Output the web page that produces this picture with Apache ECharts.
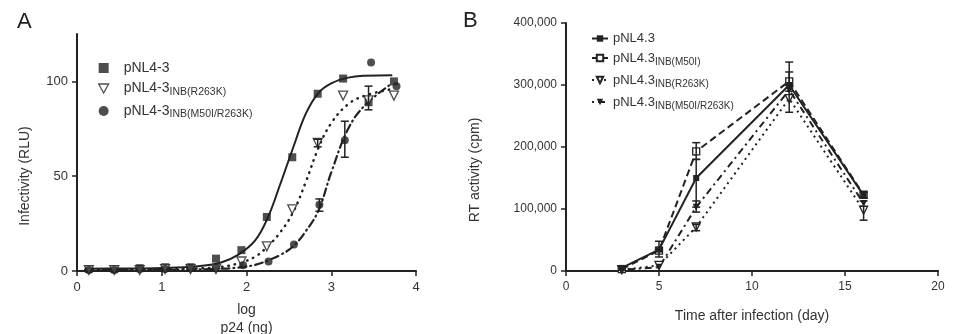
<!DOCTYPE html>
<html>
<head>
<meta charset="utf-8">
<script src="https://cdn.jsdelivr.net/npm/echarts@6/dist/echarts.min.js"></script>
<style>
  html, body { margin: 0; padding: 0; background: #fff; }
  #chart { width: 963px; height: 334px; }
</style>
</head>
<body>
<div id="chart"></div>
<script>
// panel A - infectivity vs log p24
var logP24 = [0.14, 0.44, 0.74, 1.04, 1.34, 1.64, 1.94, 2.24, 2.54, 2.84, 3.14, 3.44, 3.74];
var wtRLU = [1, 1, 1.5, 2, 2, 6.5, 11, 28.5, 60, 93.5, 101.5, 89, 100];
var r263kRLU = [0.5, 0.5, 0.5, 1, 1, 1, 5, 13, 32.5, 67.5, 92.5, 90, 92.5];
var dblX = [0.14, 0.44, 0.74, 1.04, 1.34, 1.64, 1.96, 2.26, 2.56, 2.86, 3.16, 3.47, 3.77];
var dblRLU = [0.5, 0.5, 1, 1, 1.5, 1.5, 3, 5, 14, 35, 69, 110, 97.5];

// fitted curves
var fitX = [0.1, 0.5, 1.0, 1.4, 1.7, 1.9, 2.1, 2.25, 2.4, 2.55, 2.7, 2.85, 3.0, 3.2, 3.4, 3.72];
var wtFit = [1.2, 1.3, 1.6, 2.4, 4.5, 8.5, 16, 28, 46, 65, 83, 94, 99, 102, 103, 103.3];
var r263kFit = [0.8, 0.8, 1, 1.3, 2.2, 4, 7.5, 13, 20.5, 31, 47, 65, 78, 88, 92.5, 96];
var dblFit = [0.5, 0.5, 0.6, 0.8, 1.2, 1.8, 3.2, 5.5, 8.5, 13, 21, 32, 52, 75, 87.5, 99];

// error bars [x, low, high]
var errA = [[3.44, 85, 97.5], [2.84, 65.5, 69.5], [2.86, 31.5, 38], [3.16, 60, 79]];

// panel B - RT activity over time
var days = [3, 5, 7, 12, 16];
var wtRT = [5000, 34500, 150000, 300000, 122000];
var m50iRT = [3000, 33000, 193000, 306000, 123000];
var r263kRT = [2000, 9000, 71000, 278000, 98000];
var dblRT = [2000, 6000, 103000, 292000, 109000];
var errB = [[5, 22600, 48000], [7, 103000, 180000], [7, 180000, 207000], [7, 65000, 75000],
            [7, 95000, 113000], [12, 256000, 300000], [12, 290000, 337000], [12, 295000, 321000],
            [16, 82000, 113000], [16, 118000, 127000]];

var FONT = 'Liberation Sans, Arial, sans-serif';
var INK = '#222';
var TXT = '#333';

function zip(xs, ys) {
    return xs.map(function (x, i) { return [x, ys[i]]; });
}

function errBars(params, api) {
    var x = api.value(0);
    var lo = api.coord([x, api.value(1)]);
    var hi = api.coord([x, api.value(2)]);
    var w = 4;
    var st = { stroke: INK, lineWidth: 1.5 };
    return {
        type: 'group',
        children: [
            { type: 'line', shape: { x1: lo[0], y1: lo[1], x2: hi[0], y2: hi[1] }, style: st },
            { type: 'line', shape: { x1: lo[0] - w, y1: lo[1], x2: lo[0] + w, y2: lo[1] }, style: st },
            { type: 'line', shape: { x1: hi[0] - w, y1: hi[1], x2: hi[0] + w, y2: hi[1] }, style: st }
        ]
    };
}

function commas(v) {
    return String(v).replace(/\B(?=(\d{3})+(?!\d))/g, ',');
}

var axisCommon = {
    axisLine: { lineStyle: { color: INK, width: 2 } },
    axisTick: { lineStyle: { color: INK, width: 1.5 }, length: 5 },
    splitLine: { show: false }
};

var chart = echarts.init(document.getElementById('chart'));

var option = {
    animation: false,
    textStyle: { fontFamily: FONT },
    grid: [
        { left: 77, top: 34, width: 339, height: 237, outerBoundsMode: 'none', containLabel: false },
        { left: 566, top: 23, width: 372, height: 248, outerBoundsMode: 'none', containLabel: false }
    ]
};

option.xAxis = [
    Object.assign({}, axisCommon, {
        gridIndex: 0, type: 'value', min: 0, max: 4, interval: 1,
        axisLabel: { fontSize: 13, color: TXT, margin: 10 },
        name: 'log\np24 (ng)', nameLocation: 'middle', nameGap: 30,
        nameTextStyle: { fontSize: 14, color: TXT, lineHeight: 18 }
    }),
    Object.assign({}, axisCommon, {
        gridIndex: 1, type: 'value', min: 0, max: 20, interval: 5,
        axisLabel: { fontSize: 12, color: TXT, margin: 10 },
        name: 'Time after infection (day)', nameLocation: 'middle', nameGap: 38,
        nameTextStyle: { fontSize: 14, color: TXT }
    })
];

option.yAxis = [
    Object.assign({}, axisCommon, {
        gridIndex: 0, type: 'value', min: 0, max: 125, interval: 50,
        axisLabel: { fontSize: 13, color: TXT, margin: 9, customValues: [0, 50, 100] },
        axisTick: { lineStyle: { color: INK, width: 1.5 }, length: 5, customValues: [0, 50, 100] }
    }),
    Object.assign({}, axisCommon, {
        gridIndex: 1, type: 'value', min: 0, max: 400000, interval: 100000,
        axisLabel: { fontSize: 12, color: TXT, margin: 9, formatter: commas }
    })
];

var openStyle = { color: '#fff', borderColor: INK, borderWidth: 1.3 };
var fillStyle = { color: INK };

option.series = [
    // panel A fitted curves
    { type: 'line', xAxisIndex: 0, yAxisIndex: 0, data: zip(fitX, wtFit), smooth: 0.4, showSymbol: false,
      lineStyle: { color: INK, width: 2 }, silent: true },
    { type: 'line', xAxisIndex: 0, yAxisIndex: 0, data: zip(fitX, r263kFit), smooth: 0.4, showSymbol: false,
      lineStyle: { color: INK, width: 2.5, type: [0.5, 6], cap: 'round' }, silent: true },
    { type: 'line', xAxisIndex: 0, yAxisIndex: 0, data: zip(fitX, dblFit), smooth: 0.4, showSymbol: false,
      lineStyle: { color: INK, width: 2.2, type: [8, 4, 1, 4], cap: 'round' }, silent: true },
    // panel A points
    { name: 'pNL4-3', type: 'scatter', xAxisIndex: 0, yAxisIndex: 0, data: zip(logP24, wtRLU),
      symbol: 'rect', symbolSize: 8, itemStyle: fillStyle, z: 5 },
    { name: 'pNL4-3|INB(R263K)', type: 'scatter', xAxisIndex: 0, yAxisIndex: 0, data: zip(logP24, r263kRLU),
      symbol: 'triangle', symbolRotate: 180, symbolSize: 9, itemStyle: openStyle, z: 5 },
    { name: 'pNL4-3|INB(M50I/R263K)', type: 'scatter', xAxisIndex: 0, yAxisIndex: 0, data: zip(dblX, dblRLU),
      symbol: 'circle', symbolSize: 8, itemStyle: fillStyle, z: 5 },
    { type: 'custom', xAxisIndex: 0, yAxisIndex: 0, data: errA, renderItem: errBars, encode: { x: 0, y: [1, 2] }, z: 6 },
    // panel B
    { name: 'pNL4.3', type: 'line', xAxisIndex: 1, yAxisIndex: 1, data: zip(days, wtRT),
      symbol: 'rect', symbolSize: 6, itemStyle: fillStyle, lineStyle: { color: INK, width: 2 }, z: 5 },
    { name: 'pNL4.3|INB(M50I)', type: 'line', xAxisIndex: 1, yAxisIndex: 1, data: zip(days, m50iRT),
      symbol: 'rect', symbolSize: 7, itemStyle: openStyle, lineStyle: { color: INK, width: 2, type: [7, 4] }, z: 4 },
    { name: 'pNL4.3|INB(R263K)', type: 'line', xAxisIndex: 1, yAxisIndex: 1, data: zip(days, r263kRT),
      symbol: 'triangle', symbolRotate: 180, symbolSize: 8, itemStyle: openStyle,
      lineStyle: { color: INK, width: 2, type: [2, 4] }, z: 4 },
    { name: 'pNL4.3|INB(M50I/R263K)', type: 'line', xAxisIndex: 1, yAxisIndex: 1, data: zip(days, dblRT),
      symbol: 'triangle', symbolRotate: 180, symbolSize: 7, itemStyle: fillStyle,
      lineStyle: { color: INK, width: 2, type: [2, 4, 7, 4] }, z: 4 },
    { type: 'custom', xAxisIndex: 1, yAxisIndex: 1, data: errB, renderItem: errBars, encode: { x: 0, y: [1, 2] }, z: 6 }
];

function subFmt(name) {
    var p = name.split('|');
    return p.length > 1 ? '{a|' + p[0] + '}{s|' + p[1] + '}' : '{a|' + p[0] + '}';
}

option.legend = [
    {
        orient: 'vertical', left: 93, top: 56, itemGap: 6.5, itemWidth: 10, itemHeight: 10,
        selectedMode: false,
        data: [
            'pNL4-3',
            { name: 'pNL4-3|INB(R263K)', icon: 'path://M0,0L10,0L5,9Z', itemStyle: openStyle },
            'pNL4-3|INB(M50I/R263K)'
        ],
        formatter: subFmt,
        textStyle: {
            padding: [0, 0, 0, 10],
            rich: {
                a: { fontSize: 14, color: TXT, lineHeight: 18, fontFamily: FONT },
                s: { fontSize: 10.5, color: TXT, lineHeight: 10, verticalAlign: 'bottom', fontFamily: FONT }
            }
        }
    },
    {
        orient: 'vertical', left: 586, top: 27, itemGap: 6.5, itemWidth: 16, itemHeight: 8,
        selectedMode: false,
        data: ['pNL4.3', 'pNL4.3|INB(M50I)', 'pNL4.3|INB(R263K)', 'pNL4.3|INB(M50I/R263K)'],
        formatter: subFmt,
        textStyle: {
            padding: [0, 0, 0, 0],
            rich: {
                a: { fontSize: 13, color: TXT, lineHeight: 18, fontFamily: FONT },
                s: { fontSize: 10, color: TXT, lineHeight: 10, verticalAlign: 'bottom', fontFamily: FONT }
            }
        }
    }
];

option.graphic = [
    { type: 'text', left: 17, top: 11, style: { text: 'A', font: '22px ' + FONT, fill: INK } },
    { type: 'text', left: 463, top: 10, style: { text: 'B', font: '22px ' + FONT, fill: INK } },
    { type: 'text', x: 25, y: 176, rotation: Math.PI / 2,
      style: { text: 'Infectivity (RLU)', font: '14px ' + FONT, fill: TXT, textAlign: 'center', textVerticalAlign: 'middle' } },
    { type: 'text', x: 475, y: 170, rotation: Math.PI / 2,
      style: { text: 'RT activity (cpm)', font: '14px ' + FONT, fill: TXT, textAlign: 'center', textVerticalAlign: 'middle' } }
];

chart.setOption(option);
</script>
</body>
</html>
